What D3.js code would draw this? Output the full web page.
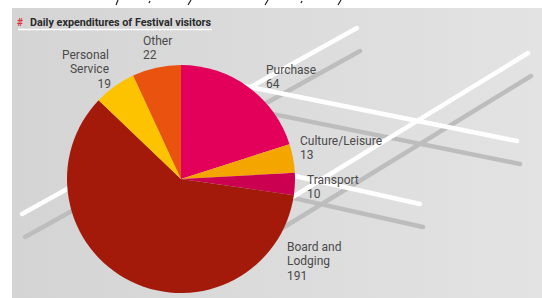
<!DOCTYPE html>
<html>
<head>
<meta charset="utf-8">
<script src="https://cdn.jsdelivr.net/npm/d3@7"></script>
<style>
  body { margin: 0; background: #fff; }
  svg { display: block; }
  .lbl { font-family: Roboto, "Noto Sans", sans-serif; font-size: 12px; fill: #4a4a4a; }
</style>
</head>
<body>
<script>
// data
let categories = ['Purchase', 'Culture/Leisure', 'Transport', 'Board and Lodging', 'Personal Service', 'Other'];
let values = [64, 13, 10, 191, 19, 22];
let colors = ['#e2005b', '#f5a500', '#cc0050', '#a31a0b', '#fdc300', '#e9520f'];
let labelLines = [['Purchase'], ['Culture/Leisure'], ['Transport'], ['Board and', 'Lodging'], ['Personal', 'Service'], ['Other']];
let title = 'Daily expenditures of Festival visitors';

let width = 542;
let height = 298;
let cx = 181, cy = 179, radius = 114;

// where each label block sits (layout only)
let labelLayout = [
    { x: 266, y: 74, anchor: 'start' },
    { x: 300, y: 145, anchor: 'start' },
    { x: 307, y: 184, anchor: 'start' },
    { x: 287, y: 251, anchor: 'start' },
    { x: 109, y: 59, anchor: 'end' },
    { x: 143, y: 45, anchor: 'start' }
];

let svg = d3.select('body')
            .append('svg')
            .attr('width', width)
            .attr('height', height)

let defs = svg.append('defs');
let grad = defs.append('linearGradient').attr('id', 'bg').attr('x1', 0).attr('x2', 1).attr('y1', 0).attr('y2', 0);
grad.append('stop').attr('offset', '0%').attr('stop-color', '#d4d4d4');
grad.append('stop').attr('offset', '100%').attr('stop-color', '#e3e3e3');

// scan scraps at the very top
let scraps = [[118, 0, 116, 5], [150, 1, 149, 3], [191, 0, 188, 5], [268, 0, 265, 5], [302, 1, 301, 3], [341, 0, 338, 5]];
svg.selectAll('.scrap')
    .data(scraps)
    .enter()
    .append('line')
    .attr('x1', d => d[0]).attr('y1', d => d[1])
    .attr('x2', d => d[2]).attr('y2', d => d[3])
    .attr('stroke', '#222')
    .attr('stroke-width', 1.2)

// panel
svg.append('rect')
    .attr('x', 12)
    .attr('y', 8)
    .attr('width', width - 12)
    .attr('height', height - 8)
    .attr('fill', 'url(#bg)')

// decorative sticks: [x1, y1, x2, y2], shadow is shifted down
let sticks = [
    [22, 214, 357, 28],
    [200, 77, 517, 141],
    [260, 217, 528, 53],
    [250, 166, 420, 204]
];
svg.selectAll('.shadow')
    .data(sticks)
    .enter()
    .append('line')
    .attr('x1', d => d[0] + 3).attr('y1', d => d[1] + 23)
    .attr('x2', d => d[2] + 3).attr('y2', d => d[3] + 23)
    .attr('stroke', '#bdbdbd')
    .attr('stroke-width', 4.5)
    .attr('stroke-linecap', 'round')

svg.selectAll('.stick')
    .data(sticks)
    .enter()
    .append('line')
    .attr('x1', d => d[0]).attr('y1', d => d[1])
    .attr('x2', d => d[2]).attr('y2', d => d[3])
    .attr('stroke', '#ffffff')
    .attr('stroke-width', 4.5)
    .attr('stroke-linecap', 'round')

// title
let t = svg.append('text')
    .attr('x', 17)
    .attr('y', 26)
    .style('font-family', 'Roboto, sans-serif')
    .style('font-size', '10px')
    .style('font-weight', 'bold')
t.append('tspan').attr('fill', '#e0303a').text('#');
svg.append('text')
    .attr('x', 30)
    .attr('y', 26)
    .attr('textLength', 181)
    .attr('lengthAdjust', 'spacingAndGlyphs')
    .style('font-family', 'Roboto, sans-serif')
    .style('font-size', '10px')
    .style('font-weight', 'bold')
    .attr('fill', '#2a2a2a')
    .text(title)
svg.append('line')
    .attr('x1', 18).attr('x2', 212)
    .attr('y1', 29.5).attr('y2', 29.5)
    .attr('stroke', '#ffffff')
    .attr('stroke-width', 1.5)

// pie
let pie = d3.pie().sort(null).value(d => d)(values);
let arc = d3.arc().innerRadius(0).outerRadius(radius);

svg.append('g')
    .attr('transform', `translate(${cx},${cy})`)
    .selectAll('path')
    .data(pie)
    .enter()
    .append('path')
    .attr('d', arc)
    .attr('fill', (d, i) => colors[i])

// labels
let lineH = 14.3;
labelLines.forEach((lines, i) => {
    let pos = labelLayout[i];
    let txt = svg.append('text')
        .attr('class', 'lbl')
        .attr('text-anchor', pos.anchor);
    lines.concat([String(values[i])]).forEach((s, j) => {
        txt.append('tspan')
            .attr('x', pos.x + (pos.anchor === 'end' && j === lines.length ? 2 : 0))
            .attr('y', pos.y + j * lineH)
            .text(s);
    });
});
</script>
</body>
</html>
